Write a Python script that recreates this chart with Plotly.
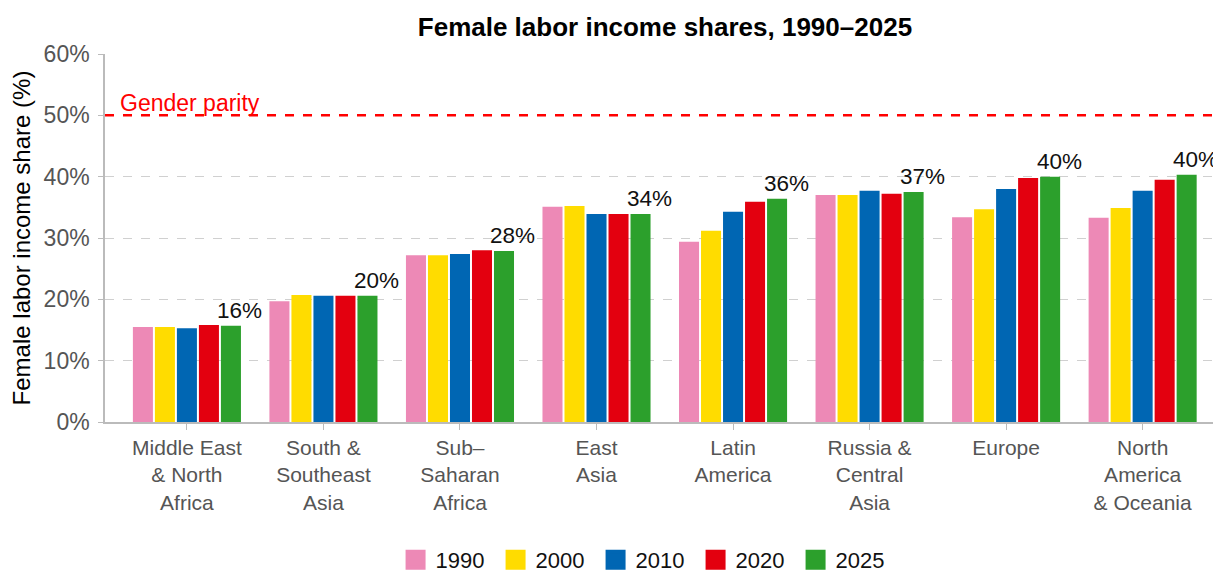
import plotly.graph_objects as go

regions = ["Middle East<br>& North<br>Africa", "South &<br>Southeast<br>Asia", "Sub–<br>Saharan<br>Africa",
           "East<br>Asia", "Latin<br>America", "Russia &<br>Central<br>Asia", "Europe",
           "North<br>America<br>& Oceania"]
years = ["1990", "2000", "2010", "2020", "2025"]
v1990 = [15.5, 19.7, 27.2, 35.1, 29.4, 37.0, 33.4, 33.3]
v2000 = [15.5, 20.7, 27.2, 35.2, 31.2, 37.0, 34.7, 34.9]
v2010 = [15.3, 20.6, 27.4, 33.9, 34.3, 37.7, 38.0, 37.7]
v2020 = [15.8, 20.6, 28.0, 33.9, 35.9, 37.2, 39.8, 39.5]
v2025 = [15.7, 20.6, 27.9, 33.9, 36.4, 37.5, 40.0, 40.3]
labels_2025 = ["16%", "20%", "28%", "34%", "36%", "37%", "40%", "40%"]
parity = 50
colors = ["#ED89B6", "#FFDC00", "#0066B3", "#E3000F", "#2CA02C"]

series = [v1990, v2000, v2010, v2020, v2025]
font = "Liberation Sans, Arial, sans-serif"

fig = go.Figure()
for yr, vals, c in zip(years, series, colors):
    fig.add_trace(go.Bar(x=regions, y=vals, name=yr, showlegend=False,
                         marker=dict(color=c, line=dict(width=0))))
# legend entries with larger square swatches
for yr, c in zip(years, colors):
    fig.add_trace(go.Scatter(x=[None], y=[None], mode="markers", name=yr,
                             marker=dict(symbol="square", size=16, color=c,
                                         line=dict(color=c, width=4))))

for r, v, lab in zip(regions, v2025, labels_2025):
    fig.add_annotation(x=r, y=v, text=lab, showarrow=False, xshift=53, yshift=1,
                       yanchor="bottom", font=dict(size=22.5, color="#111111", family=font))

fig.add_shape(type="line", xref="paper", x0=0, x1=1, yref="y", y0=parity, y1=parity,
              line=dict(color="#FF0000", width=2.5, dash="dash"))
fig.add_annotation(xref="paper", x=0.012, y=parity, text="Gender parity", showarrow=False,
                   xanchor="left", yanchor="bottom", yshift=-3,
                   font=dict(size=23, color="#FF0000", family=font))

fig.update_layout(
    width=1213, height=564,
    margin=dict(l=97, r=6, t=46, b=150),
    paper_bgcolor="white", plot_bgcolor="white",
    font=dict(family=font),
    title=dict(text="<b>Female labor income shares, 1990–2025</b>", x=0.5416, xanchor="center",
               y=0.966, yanchor="middle", font=dict(size=26, color="black", family=font)),
    barmode="group", bargap=0.194, bargroupgap=0.09,
    legend=dict(orientation="h", x=0.487, xanchor="center", yref="container", y=0.0213,
                yanchor="middle", entrywidth=55, entrywidthmode="pixels",
                font=dict(size=22, color="#111111", family=font), traceorder="normal"),
    xaxis=dict(range=[-0.6, 7.53], showline=True, linecolor="#BBBBBB", linewidth=1.5,
               ticks="outside", ticklen=6, tickcolor="#BBBBBB",
               tickfont=dict(size=21, color="#555555", family=font), showgrid=False),
    yaxis=dict(range=[0, 60], dtick=10, ticksuffix="%", showline=True, linecolor="#BBBBBB",
               linewidth=1.5, ticks="outside", ticklen=5, tickcolor="#BBBBBB",
               ticklabelstandoff=4,
               gridcolor="#D0D0D0", griddash="dash", gridwidth=1, zeroline=False,
               tickfont=dict(size=23, color="#555555", family=font),
               title=dict(text="Female labor income share (%)", standoff=8,
                          font=dict(size=24, color="black", family=font))),
)
fig.write_html("out.html")
